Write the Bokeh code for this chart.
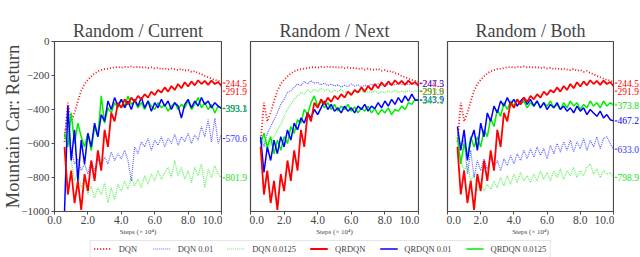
from bokeh.plotting import figure
from bokeh.models import (FixedTicker, Legend, LegendItem, Range1d,
                          PrintfTickFormatter, CustomJSTickFormatter, ColumnDataSource)
from bokeh.core.properties import value
from bokeh.layouts import column, row
from bokeh.embed import file_html
from bokeh.resources import INLINE

FONT = "Liberation Serif"

STEPS = [0.6, 0.8, 1.0, 1.2, 1.4, 1.6, 1.8, 2.0, 2.2, 2.4, 2.6, 2.8, 3.0, 3.2, 3.4, 3.6,
         3.8, 4.0, 4.2, 4.4, 4.6, 4.8, 5.0, 5.2, 5.4, 5.6, 5.8, 6.0, 6.2, 6.4, 6.6, 6.8,
         7.0, 7.2, 7.4, 7.6, 7.8, 8.0, 8.2, 8.4, 8.6, 8.8, 9.0, 9.2, 9.4, 9.6, 9.8, 10.0]

PANELS = ["Random / Current", "Random / Next", "Random / Both"]
SERIES = ["DQN", "DQN 0.01", "DQN 0.0125", "QRDQN", "QRDQN 0.01", "QRDQN 0.0125"]

# baselines (identical in every panel)
DQN = [-590, -360, -470, -420, -350, -290, -250, -225, -205, -188, -175, -168, -162, -160, -156, -152,
       -150, -154, -149, -151, -147, -152, -149, -154, -150, -157, -152, -158, -155, -162, -157, -165,
       -159, -164, -168, -161, -172, -168, -178, -174, -186, -192, -203, -210, -218, -225, -231, -238]
QRDQN = [-620, -900, -760, -950, -820, -990, -780, -880, -700, -820, -640, -760, -520, -620, -420, -470,
         -360, -390, -340, -370, -330, -355, -320, -340, -310, -330, -295, -315, -285, -300, -270, -295,
         -262, -285, -250, -275, -240, -265, -235, -258, -228, -250, -232, -255, -230, -250, -238, -262]

# Random / Current
CUR_DQN_001 = [-560, -380, -640, -720, -690, -760, -720, -780, -700, -760, -690, -730, -680, -720, -650, -700,
               -660, -690, -640, -700, -820, -620, -660, -590, -620, -570, -640, -580, -610, -560, -620, -570,
               -600, -545, -610, -560, -590, -540, -600, -550, -580, -500, -560, -460, -590, -450, -600, -545]
CUR_DQN_00125 = [-560, -480, -700, -820, -760, -860, -800, -900, -850, -920, -860, -900, -830, -950, -860, -930,
                 -840, -880, -820, -870, -800, -850, -810, -860, -790, -840, -780, -820, -760, -810, -770, -740,
                 -800, -700, -790, -740, -810, -760, -830, -740, -790, -720, -860, -750, -800, -730, -780, -800]
CUR_QR_001 = [-1000, -380, -700, -520, -820, -580, -720, -540, -620, -480, -560, -430, -470, -350, -400, -330,
              -380, -340, -390, -350, -400, -340, -380, -330, -390, -350, -410, -360, -390, -340, -380, -350,
              -400, -360, -380, -450, -370, -340, -390, -350, -380, -330, -370, -350, -390, -360, -380, -393]
CUR_QR_00125 = [-540, -620, -420, -600, -480, -560, -620, -540, -640, -500, -560, -320, -480, -390, -420, -360,
                -390, -340, -380, -320, -370, -350, -390, -360, -400, -350, -380, -400, -360, -390, -370, -410,
                -380, -360, -400, -370, -390, -350, -400, -370, -330, -390, -360, -400, -370, -420, -380, -395]

# Random / Next
NXT_DQN_001 = [-560, -620, -540, -500, -460, -420, -370, -340, -300, -290, -270, -250, -260, -235, -250, -230,
               -245, -240, -255, -245, -260, -250, -262, -255, -268, -258, -265, -250, -262, -255, -268, -258,
               -262, -252, -260, -248, -258, -250, -256, -245, -255, -248, -252, -244, -255, -248, -252, -247]
NXT_DQN_00125 = [-620, -580, -650, -600, -560, -520, -490, -440, -400, -370, -340, -320, -300, -310, -285, -300,
                 -280, -295, -275, -290, -280, -300, -285, -295, -280, -300, -290, -305, -292, -300, -288, -302,
                 -295, -300, -290, -305, -295, -300, -290, -298, -288, -300, -292, -298, -290, -296, -290, -293]
NXT_QR_001 = [-560, -770, -620, -700, -580, -660, -560, -620, -520, -580, -480, -520, -450, -480, -420, -450,
              -400, -430, -390, -350, -400, -370, -410, -390, -420, -380, -410, -390, -420, -380, -400, -370,
              -410, -380, -395, -360, -390, -350, -380, -340, -370, -330, -360, -320, -350, -310, -345, -344]
NXT_QR_00125 = [-600, -540, -620, -560, -660, -580, -640, -560, -600, -500, -540, -460, -480, -400, -430, -360,
                -320, -380, -350, -390, -360, -400, -370, -410, -380, -400, -370, -410, -385, -420, -390, -410,
                -380, -420, -395, -430, -400, -420, -390, -430, -400, -410, -380, -400, -360, -370, -340, -348]

# Random / Both
BTH_DQN_001 = [-540, -620, -580, -780, -640, -800, -700, -760, -690, -750, -680, -740, -700, -760, -690, -730,
               -670, -720, -660, -700, -640, -690, -630, -680, -620, -670, -630, -690, -610, -660, -600, -650,
               -590, -640, -580, -650, -590, -630, -570, -640, -580, -620, -560, -630, -570, -560, -600, -633]
BTH_DQN_00125 = [-600, -700, -760, -720, -820, -780, -880, -830, -880, -840, -870, -820, -860, -800, -850, -790,
                 -840, -780, -830, -770, -820, -790, -830, -780, -820, -760, -810, -770, -820, -760, -800, -750,
                 -810, -760, -790, -740, -800, -760, -790, -740, -720, -780, -750, -800, -760, -780, -770, -799]
BTH_QR_001 = [-500, -640, -520, -700, -580, -520, -640, -480, -560, -420, -470, -380, -420, -350, -380, -330,
              -370, -340, -380, -350, -330, -370, -340, -380, -350, -390, -360, -400, -370, -390, -360, -400,
              -380, -410, -390, -420, -380, -410, -390, -430, -400, -420, -440, -410, -450, -430, -460, -467]
BTH_QR_00125 = [-560, -720, -600, -680, -560, -620, -560, -620, -520, -560, -450, -500, -400, -440, -360, -400,
                -350, -380, -340, -370, -350, -390, -360, -380, -350, -390, -360, -380, -350, -390, -370, -400,
                -360, -390, -350, -380, -360, -400, -370, -390, -350, -380, -360, -390, -350, -380, -360, -374]

# final-value annotations (in series order)
CUR_FINAL = [244.5, 570.6, 801.9, 291.9, 393.1, 395.3]
NXT_FINAL = [244.5, 247.3, 293.6, 291.9, 343.9, 347.1]
BTH_FINAL = [244.5, 633.0, 798.9, 291.9, 467.2, 373.8]

X_TICKS = [0, 2, 4, 6, 8, 10]
Y_TICKS = [0, -200, -400, -600, -800, -1000]

PANEL_DATA = [
    [DQN, CUR_DQN_001, CUR_DQN_00125, QRDQN, CUR_QR_001, CUR_QR_00125],
    [DQN, NXT_DQN_001, NXT_DQN_00125, QRDQN, NXT_QR_001, NXT_QR_00125],
    [DQN, BTH_DQN_001, BTH_DQN_00125, QRDQN, BTH_QR_001, BTH_QR_00125],
]
PANEL_FINAL = [CUR_FINAL, NXT_FINAL, BTH_FINAL]

STYLES = [
    dict(line_color="#ff0000", line_dash="1 2", line_width=1.8, line_alpha=0.95),
    dict(line_color="#3a3aff", line_dash="1 1", line_width=1.2, line_alpha=0.8),
    dict(line_color="#22ee22", line_dash="1 1", line_width=1.2, line_alpha=0.75),
    dict(line_color="#ff0000", line_width=1.8),
    dict(line_color="#0000ff", line_width=1.5),
    dict(line_color="#00ee00", line_width=1.5),
]
LABEL_COLORS = ["#ff0000", "#3333ff", "#22dd22", "#ff0000", "#0000ff", "#00dd00"]
DRAW_ORDER = [2, 1, 0, 5, 4, 3]
LABEL_ORDER = [0, 3, 1, 2, 4, 5]

FRAME_COLOR = "#4a4a4a"
H = 240
TOP = 41
BOTTOM = 29
FRAME_W = [169, 168, 166]
LEFT = [52, 1, 1]
STRIP_W = [27, 27, 26]


def make_panel(i):
    left = LEFT[i]
    p = figure(width=left + FRAME_W[i] + 1, height=H, x_range=Range1d(0, 10), y_range=Range1d(-1000, 0),
               output_backend="svg", toolbar_location=None,
               min_border_left=left, min_border_right=1, min_border_top=TOP, min_border_bottom=BOTTOM)
    p.title.text = PANELS[i]
    p.title.text_font = FONT
    p.title.text_font_size = "18px"
    p.title.text_font_style = "normal"
    p.title.align = "center"
    p.title.standoff = 1
    p.grid.visible = False
    p.outline_line_color = FRAME_COLOR
    p.outline_line_width = 1.2
    p.background_fill_color = "white"
    p.border_fill_color = "white"

    xa = p.xaxis[0]
    xa.ticker = FixedTicker(ticks=X_TICKS)
    xa.formatter = PrintfTickFormatter(format="%.1f")
    xa.axis_label = "Steps (× 10⁴)"
    xa.axis_label_text_font = FONT
    xa.axis_label_text_font_size = "7px"
    xa.axis_label_text_font_style = "normal"
    xa.axis_label_standoff = 1
    xa.major_label_text_font = FONT
    xa.major_label_text_font_size = "11.5px"
    xa.major_label_standoff = 1
    xa.axis_line_color = FRAME_COLOR
    xa.major_tick_line_color = FRAME_COLOR
    xa.major_tick_out = 3
    xa.major_tick_in = 0
    xa.minor_tick_line_color = None

    ya = p.yaxis[0]
    if i == 0:
        ya.ticker = FixedTicker(ticks=Y_TICKS)
        ya.formatter = CustomJSTickFormatter(code="return tick == 0 ? '0' : '\u2212' + Math.abs(tick);")
        ya.axis_label = "Mountain Car: Return"
        ya.axis_label_text_font = FONT
        ya.axis_label_text_font_size = "18.5px"
        ya.axis_label_text_font_style = "normal"
        ya.axis_label_standoff = -5
        ya.major_label_text_font = FONT
        ya.major_label_text_font_size = "11px"
        ya.major_label_standoff = 2
        ya.axis_line_color = FRAME_COLOR
        ya.major_tick_line_color = FRAME_COLOR
        ya.major_tick_out = 3
        ya.major_tick_in = 0
        ya.minor_tick_line_color = None
    else:
        ya.visible = False

    data = PANEL_DATA[i]
    for k in DRAW_ORDER:
        p.line(STEPS, data[k], **STYLES[k])
    return p


def make_strip(i):
    w = STRIP_W[i]
    s = figure(width=w, height=H, x_range=Range1d(0, w), y_range=Range1d(-1000, 0),
               output_backend="svg", toolbar_location=None,
               min_border_left=0, min_border_right=0, min_border_top=TOP, min_border_bottom=BOTTOM)
    s.axis.visible = False
    s.grid.visible = False
    s.outline_line_color = None
    s.background_fill_color = "white"
    s.border_fill_color = "white"
    finals = PANEL_FINAL[i]
    ys = [-finals[k] for k in LABEL_ORDER]
    cols = [LABEL_COLORS[k] for k in LABEL_ORDER]
    txt = [f"{finals[k]:.1f}" for k in LABEL_ORDER]
    src = ColumnDataSource(dict(x0=[0] * 6, x1=[2.8] * 6, xt=[3.0] * 6, y=ys, c=cols, t=txt))
    s.segment(x0="x0", y0="y", x1="x1", y1="y", line_color="c", line_width=1, source=src)
    s.text(x="xt", y="y", text="t", text_color="c", text_font=value(FONT), text_font_size="9.5px",
           text_baseline="middle", text_align="left", source=src)
    return s


figs = []
for i in range(3):
    figs.append(make_panel(i))
    figs.append(make_strip(i))

lf = figure(width=640, height=17, x_range=Range1d(0, 1), y_range=Range1d(0, 1),
            output_backend="svg", toolbar_location=None, min_border=0)
lf.axis.visible = False
lf.grid.visible = False
lf.outline_line_color = None
items = []
for k, name in enumerate(SERIES):
    r = lf.line(x=[5, 6], y=[5, 5], **STYLES[k])
    items.append(LegendItem(label=name, renderers=[r]))
leg = Legend(items=items, orientation="horizontal", location="center",
             label_text_font=FONT, label_text_font_size="8.5px",
             glyph_width=18, glyph_height=9, label_height=9, label_standoff=7,
             spacing=14, padding=3, margin=0,
             border_line_color="#cccccc", border_line_width=1, background_fill_alpha=1)
lf.add_layout(leg, "center")

layout = column(row(*figs, spacing=0), lf, spacing=0)

open("out.html", "w").write(file_html(layout, INLINE))
